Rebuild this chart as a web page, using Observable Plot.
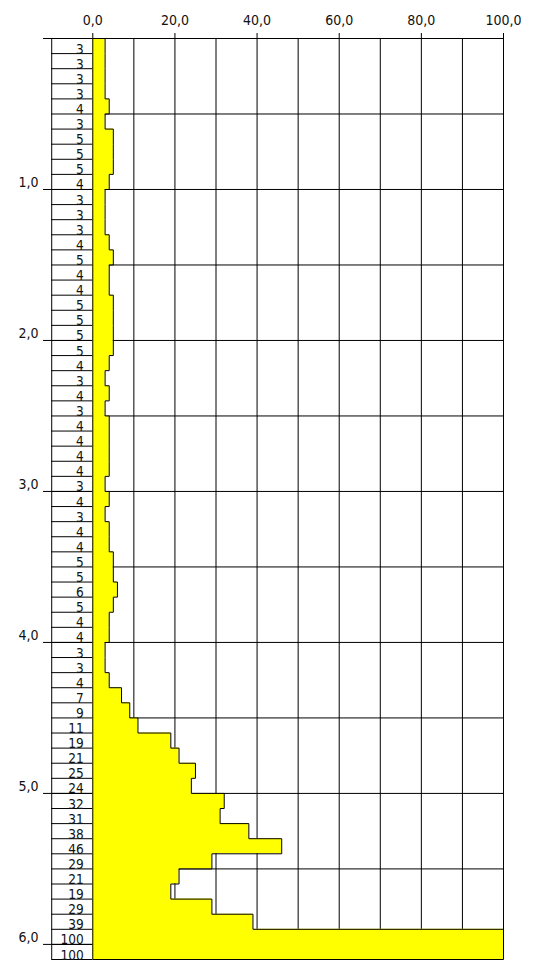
<!DOCTYPE html>
<html><head><meta charset="utf-8">
<script src="https://cdn.jsdelivr.net/npm/d3@7"></script>
<script src="https://cdn.jsdelivr.net/npm/@observablehq/plot@0.6"></script>
<style>
html,body{margin:0;padding:0;background:#fff;}
svg{display:block;}
</style></head><body><div id="chart"></div>
<script>
// Depth (m) at the bottom of each 0.1 m interval
const depthBottom = [
  0.1,0.2,0.3,0.4,0.5,0.6,0.7,0.8,0.9,1.0,
  1.1,1.2,1.3,1.4,1.5,1.6,1.7,1.8,1.9,2.0,
  2.1,2.2,2.3,2.4,2.5,2.6,2.7,2.8,2.9,3.0,
  3.1,3.2,3.3,3.4,3.5,3.6,3.7,3.8,3.9,4.0,
  4.1,4.2,4.3,4.4,4.5,4.6,4.7,4.8,4.9,5.0,
  5.1,5.2,5.3,5.4,5.5,5.6,5.7,5.8,5.9,6.0,
  6.1
];
// Blow counts per interval
const blows = [
  3,3,3,3,4,3,5,5,5,4,
  3,3,3,4,5,4,4,5,5,5,
  5,4,3,4,3,4,4,4,4,3,
  4,3,4,4,5,5,6,5,4,4,
  3,3,4,7,9,11,19,21,25,24,
  32,31,38,46,29,21,19,29,39,100,
  100
];
const depthStep = 0.1;
const xTicks = [0, 20, 40, 60, 80, 100];
const xGrid = [10, 20, 30, 40, 50, 60, 70, 80, 90, 100];
const depthTicks = [1, 2, 3, 4, 5, 6];
const halfGrid = [0.5, 1.5, 2.5, 3.5, 4.5, 5.5];
const maxDepth = 6.1;

const rows = blows.map((v, i) => ({top: +(depthBottom[i] - depthStep).toFixed(2), bottom: depthBottom[i], v}));
const steps = rows.flatMap(r => [{d: r.top, v: r.v}, {d: r.bottom, v: r.v}]);
const outline = [{d: 0, v: 0}, ...steps, {d: maxDepth, v: 0}];
const fmt = d => d.toFixed(1).replace(".", ",");

const chart = Plot.plot({
  width: 534, height: 961,
  marginTop: 38, marginBottom: 2, marginLeft: 43, marginRight: 31,
  style: {fontFamily: "'DejaVu Sans Condensed', 'Liberation Sans Narrow', Roboto, sans-serif", fontSize: "13px", color: "#000", background: "#fff", overflow: "visible"},
  x: {domain: [-12, 100], axis: null},
  y: {domain: [0, maxDepth], reverse: true, axis: null},
  marks: [
    Plot.ruleX(xGrid, {y1: 0, y2: maxDepth, stroke: "#000"}),
    Plot.ruleY(halfGrid, {x1: 0, x2: 100, stroke: "#000"}),
    Plot.ruleY([0, ...depthTicks], {x1: -12, x2: 100, stroke: "#000"}),
    Plot.areaX(steps, {x1: 0, x2: "v", y: "d", fill: "#ffff00"}),
    Plot.lineX(outline, {x: "v", y: "d", stroke: "#000", strokeWidth: 1}),
    Plot.ruleY(depthBottom, {x1: -10, x2: 0, stroke: "#000"}),
    Plot.ruleX([-10], {y1: 0, y2: maxDepth, stroke: "#000"}),
    Plot.ruleX([0], {y1: 0, y2: maxDepth, stroke: "#000"}),
    Plot.text(rows, {x: 0, y: "bottom", text: "v", textAnchor: "end", lineAnchor: "bottom", dx: -9, dy: 0, fontSize: 13.5, fill: "#111"}),
    Plot.axisX(xTicks, {anchor: "top", label: null, tickSize: 6, tickPadding: 8, tickFormat: fmt, fontSize: 14, fill: "#111"}),
    Plot.text(depthTicks, {x: -12, y: d => d, text: fmt, textAnchor: "end", lineAnchor: "bottom", dx: -5, dy: -2, fontSize: 14, fill: "#111"})
  ]
});
document.getElementById("chart").appendChild(chart);
</script>
</body></html>
